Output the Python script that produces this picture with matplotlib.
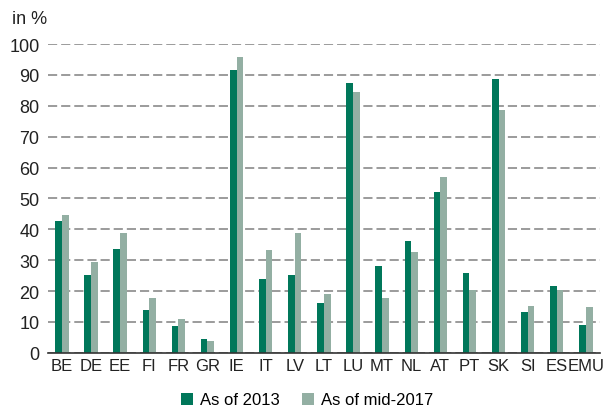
import matplotlib.pyplot as plt
import numpy as np

plt.rcParams['font.family'] = ['Liberation Sans', 'DejaVu Sans']

countries = ['BE', 'DE', 'EE', 'FI', 'FR', 'GR', 'IE', 'IT', 'LV', 'LT',
             'LU', 'MT', 'NL', 'AT', 'PT', 'SK', 'SI', 'ES', 'EMU']
as_of_2013 = [42.7, 25.2, 33.7, 14.0, 8.7, 4.6, 91.7, 24.0, 25.3, 16.2,
              87.5, 28.1, 36.2, 52.1, 26.0, 88.7, 13.1, 21.8, 9.1]
as_of_mid2017 = [44.7, 29.5, 38.7, 17.6, 11.0, 3.8, 95.8, 33.4, 38.9, 19.0,
                 84.4, 17.7, 32.8, 57.0, 20.2, 78.7, 15.1, 20.2, 14.7]

dark = '#00775a'
light = '#93afa3'

fig = plt.figure(figsize=(6.14, 4.10), dpi=100)
ax = fig.add_axes([0.078, 0.137, 0.899, 0.753])

x = np.arange(len(countries))
w = 0.23
ax.bar(x - w / 2, as_of_2013, w, color=dark, label='As of 2013', zorder=3)
ax.bar(x + w / 2, as_of_mid2017, w, color=light, label='As of mid-2017', zorder=3)

ax.set_xlim(-0.48, len(countries) - 1 + 0.48)
ax.set_ylim(0, 100)
ax.set_yticks(range(0, 101, 10))
ax.set_xticks(x)
ax.set_xticklabels(countries)
ax.tick_params(axis='both', length=0, colors='#222222')
ax.tick_params(axis='x', pad=4, labelsize=12)
ax.tick_params(axis='y', pad=6, labelsize=13)

# gestrichelte Hilfslinien
ax.yaxis.grid(True, linestyle=(0, (6, 2.6)), color='#808080', linewidth=1.1, zorder=0)
for s in ['left', 'right', 'top']:
    ax.spines[s].set_visible(False)
ax.spines['bottom'].set_color('#333333')
ax.spines['bottom'].set_linewidth(1.2)
ax.spines['bottom'].set_zorder(4)

fig.text(0.02, 0.952, 'in %', fontsize=13, color='#222222', va='center')

fig.legend(loc='center', bbox_to_anchor=(0.5, 0.022), ncol=2, frameon=False,
           fontsize=12, handlelength=0.75, handleheight=0.75, handletextpad=0.4,
           columnspacing=1.3)

fig.savefig('out.png', dpi=100)
